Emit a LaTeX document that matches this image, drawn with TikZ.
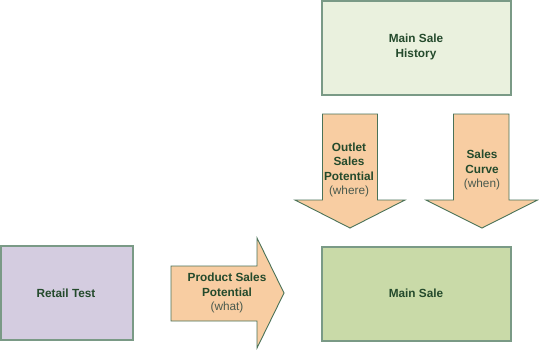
\documentclass[tikz,border=0pt]{standalone}
\usepackage{fontspec}
\setmainfont{Liberation Sans}
\definecolor{txtgreen}{HTML}{244A2C}
\definecolor{subgray}{HTML}{4A5A4E}
\definecolor{boxline}{HTML}{7A9A86}
\definecolor{arrline}{HTML}{4A7258}
\definecolor{lavender}{HTML}{D4CCE0}
\definecolor{palegreen}{HTML}{EAF1DE}
\definecolor{midgreen}{HTML}{C9DAA8}
\definecolor{peach}{HTML}{F8CDA2}
\tikzset{
  boxstyle/.style={draw=boxline, line width=1.4pt},
  arrstyle/.style={draw=arrline, fill=peach, line width=0.9pt, line join=miter},
  lbl/.style={text=txtgreen, font=\fontsize{11.8}{14.5}\selectfont\bfseries, align=center, inner sep=0pt},
}
\newcommand{\sublbl}[1]{{\mdseries\color{subgray}#1}}
\begin{document}
\begin{tikzpicture}[x=1pt,y=-1pt]
\useasboundingbox (0,0) rectangle (539,349);
% boxes
\draw[boxstyle, fill=lavender] (1,246) rectangle (133,340);
\draw[boxstyle, fill=palegreen] (322,1) rectangle (511,95);
\draw[boxstyle, fill=midgreen] (322,247) rectangle (511,341);
\node[lbl] (retail) at (66,293) {Retail Test};
\node[lbl] (history) at (416,47) {Main Sale\\History};
\node[lbl] (mainsale) at (416,293) {Main Sale};
% arrows
\draw[arrstyle] (171,266) -- (257,266) -- (257,238) -- (284,293) -- (257,348) -- (257,321) -- (171,321) -- cycle;
\draw[arrstyle] (322.5,114) -- (377.5,114) -- (377.5,200) -- (405,200) -- (350,228) -- (295,200) -- (322.5,200) -- cycle;
\draw[arrstyle] (453.5,114) -- (509,114) -- (509,200) -- (537.5,200) -- (482,228) -- (426,200) -- (453.5,200) -- cycle;
\node[lbl] (product) at (227,293) {Product Sales\\Potential\\\sublbl{(what)}};
\node[lbl] (outlet) at (349,170) {Outlet\\Sales\\Potential\\\sublbl{(where)}};
\node[lbl] (curve) at (482,170) {Sales\\Curve\\\sublbl{(when)}};
\end{tikzpicture}
\end{document}
